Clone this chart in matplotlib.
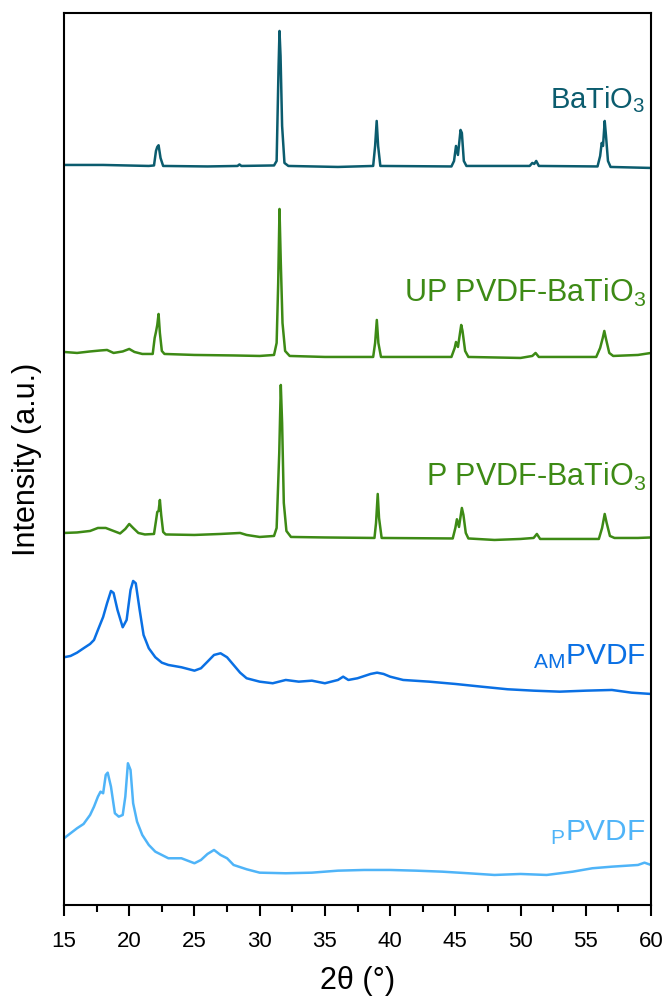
import matplotlib
matplotlib.use("Agg")
import matplotlib.pyplot as plt
from matplotlib.ticker import MultipleLocator

plt.rcParams['font.family'] = ['Liberation Sans', 'DejaVu Sans']
plt.rcParams['mathtext.fontset'] = 'custom'
plt.rcParams['mathtext.rm'] = 'Liberation Sans'
plt.rcParams['mathtext.it'] = 'Liberation Sans'

# BaTiO3 (2theta in deg, intensity in a.u.)
bto_x = [15, 18, 21.5, 21.9, 22.05, 22.15, 22.25, 22.4, 22.6, 26, 28.3, 28.45, 28.6,
         31.1, 31.3, 31.45, 31.52, 31.6, 31.72, 31.9, 32.2, 36, 38.7, 38.85, 38.97, 39.08,
         39.25, 44.7, 44.9, 45.05, 45.2, 45.4, 45.5, 45.65, 45.85, 50.7, 50.9, 51.05, 51.2,
         51.4, 55.9, 56.1, 56.22, 56.32, 56.45, 56.55, 56.7, 56.9, 60]
bto_y = [1, 1, 0, 0.5, 15, 19, 20.7, 8, 0, -0.5, 0, 1.5, 0,
         0.5, 5, 100, 135, 110, 40, 3, 0, -1, 0, 20, 45, 20,
         0, -0.5, 5, 20, 11, 36, 33, 5, 0, 0, 3, 2, 5,
         0, -0.5, 10, 23, 20, 45, 30, 5, -1, -2]

# UP PVDF-BaTiO3
up_x = [15, 16, 17, 17.8, 18.3, 18.8, 19.5, 20.0, 20.4, 21.0, 21.8, 21.95, 22.05, 22.15,
        22.25, 22.35, 22.5, 22.7, 25, 28, 30, 31.1, 31.3, 31.42, 31.52, 31.62, 31.75, 31.95,
        32.3, 35, 38.7, 38.85, 38.98, 39.1, 39.3, 44.7, 44.95, 45.05, 45.2, 45.45, 45.55,
        45.75, 46, 50, 50.9, 51.15, 51.4, 55.8, 56.1, 56.3, 56.42, 56.55, 56.8, 57.1, 59, 60]
up_y = [1, 0, 1.5, 2.5, 3, 0, 1.5, 4, 1, -1, -1, 15, 21, 28,
        39, 20, 2, -1, -2, -2.5, -3, -2, 10, 70, 144, 90, 30, 2,
        -3, -4, -4, 10, 33, 10, -4, -4, 5, 11, 6, 28, 22,
        2, -4, -5, -3, 0, -4, -4, 5, 15, 22, 14, 0, -3, -2, 0]

# P PVDF-BaTiO3
p_x = [15, 16, 17, 17.6, 18.2, 18.8, 19.3, 19.7, 20.0, 20.3, 20.7, 21.2, 21.9, 22.05,
       22.15, 22.25, 22.35, 22.45, 22.6, 22.8, 25, 27, 28.5, 29, 30, 31.1, 31.3, 31.5,
       31.62, 31.72, 31.85, 32.05, 32.4, 35, 38.8, 38.92, 39.05, 39.15, 39.35, 44.8, 45.0,
       45.12, 45.28, 45.5, 45.62, 45.8, 46.0, 48, 50, 51.0, 51.25, 51.5, 56.0, 56.25,
       56.45, 56.6, 56.85, 57.2, 59, 60]
p_y = [0, 0.5, 2, 5, 5, 2, -0.5, 4, 9, 5, 0, -1.5, -1, 12,
       21, 22, 33, 18, 1, -1.5, -2, -1, 0, -2, -4, -3, 5, 80,
       148, 110, 30, 2, -4, -4.5, -5, 10, 39, 15, -5, -5.5, 5,
       13.7, 6, 25, 18, 0, -5.5, -7, -6, -5, -1, -6, -6, 5,
       19, 10, -3, -5, -5, -4.5]

# AM PVDF
am_x = [15.0, 15.5, 16.0, 16.5, 17.0, 17.3, 17.6, 18.0, 18.3, 18.6, 18.8, 19.1, 19.5, 19.8,
        20.1, 20.3, 20.5, 20.8, 21.1, 21.5, 22.0, 22.5, 23.0, 24.0, 25.0, 25.5, 26.0, 26.5,
        27.0, 27.5, 28.0, 28.5, 29.0, 30.0, 31.0, 32.0, 33.0, 34.0, 35.0, 36.0, 36.4, 36.8,
        37.5, 38.5, 39.0, 39.5, 40.0, 41.0, 43.0, 45.0, 47.0, 49.0, 51.0, 53.0, 55.0, 57.0,
        58.5, 60.0]
am_y = [36.7, 38, 41.3, 45.7, 50, 54, 64, 77, 90.7, 103, 101, 84, 66.7, 74,
        104, 113, 110.7, 84, 59, 45.7, 36.7, 31.3, 29, 26.7, 23.3, 25.7, 32.3, 39,
        40.7, 36.7, 29, 21.3, 15.7, 12.3, 10.7, 14, 12.3, 13.3, 10.7, 14, 17.3, 14,
        15.7, 20, 21.3, 20, 17.3, 14, 12.3, 10, 7.3, 4.7, 3.3, 2.3, 3.3, 4,
        1.3, 0]

# P PVDF
pp_x = [15.0, 15.5, 16.0, 16.5, 17.0, 17.3, 17.6, 17.8, 18.0, 18.2, 18.35, 18.6, 18.9, 19.2,
        19.5, 19.7, 19.9, 20.1, 20.3, 20.6, 21.0, 21.5, 22.0, 23.0, 24.0, 25.0, 25.5, 26.0,
        26.5, 27.0, 27.5, 28.0, 29.0, 30.0, 32, 34, 36, 38, 40, 42, 44, 46, 48, 50, 52, 54,
        55.5, 57, 59, 59.5, 60]
pp_y = [26.7, 31.7, 36.7, 41, 50, 58.3, 68.3, 73.3, 71.7, 90, 92.3, 78.3, 51.7, 48.3,
        50, 68.3, 101.7, 95, 61.7, 43.3, 30, 20, 13.3, 6.7, 6.7, 1.7, 5, 11,
        15, 10, 6.7, 0, -4.3, -7.7, -8.3, -7.7, -5.7, -5, -5, -5.7, -6.7, -8.3, -10, -9, -10, -6.7,
        -3.3, -1.7, 0, 2.3, 0]

names = [r'BaTiO$_3$', r'UP PVDF-BaTiO$_3$', r'P PVDF-BaTiO$_3$',
         r'$_{\mathrm{AM}}$PVDF', r'$_{\mathrm{P}}$PVDF']
xs = [bto_x, up_x, p_x, am_x, pp_x]
ys = [bto_y, up_y, p_y, am_y, pp_y]
offsets = [739, 552, 372, 211, 40]
colors = ['#0b5c6e', '#3d8a15', '#3d8a15', '#0a70e4', '#4fb4f8']
label_y = [805, 612, 428, 248, 72]
label_size = [21, 22, 22, 21.5, 21.5]

fig = plt.figure(figsize=(6.66, 9.96), dpi=100)
ax = fig.add_axes([0.0961, 0.0914, 0.8814, 0.8956])

for x, y, off, c, nm, ly, fs in zip(xs, ys, offsets, colors, names, label_y, label_size):
    ax.plot(x, [v + off for v in y], color=c, lw=1.8)
    ax.text(59.6, ly, nm, color=c, fontsize=fs, ha='right', va='center')

ax.set_xlim(15, 60)
ax.set_ylim(0, 892)
ax.set_yticks([])
ax.xaxis.set_major_locator(MultipleLocator(5))
ax.xaxis.set_minor_locator(MultipleLocator(2.5))
ax.tick_params(axis='x', which='major', length=8, width=1.5, labelsize=16, pad=11)
ax.tick_params(axis='x', which='minor', length=5, width=1.5)
for s in ax.spines.values():
    s.set_linewidth(1.5)

ax.set_xlabel('2θ (°)', fontsize=22, labelpad=10)
ax.set_ylabel('Intensity (a.u.)', fontsize=22, labelpad=16)

fig.savefig('out.png', dpi=100)
